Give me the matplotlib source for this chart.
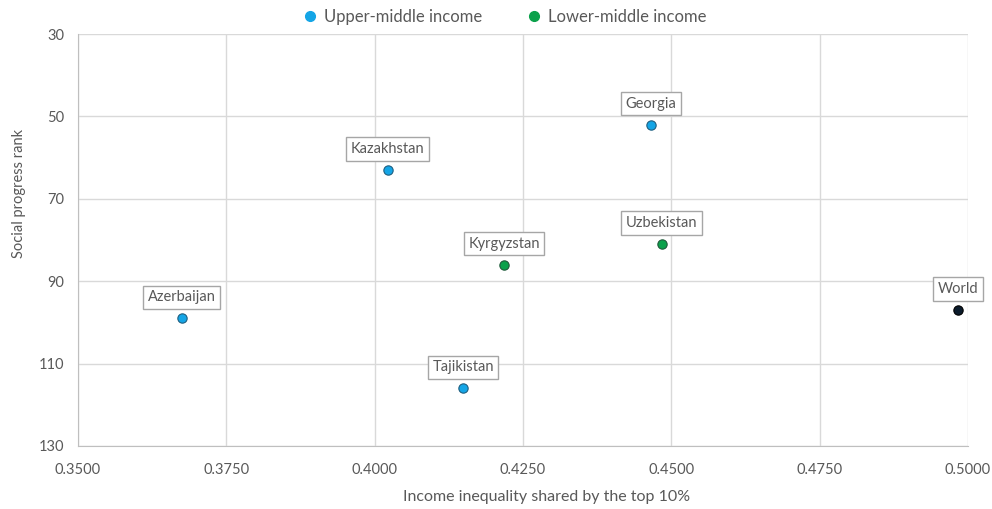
import matplotlib.pyplot as plt
from matplotlib.lines import Line2D

plt.rcParams['font.family'] = ['Lato', 'DejaVu Sans']

countries = ['Azerbaijan', 'Kazakhstan', 'Tajikistan', 'Kyrgyzstan', 'Georgia', 'Uzbekistan', 'World']
inequality = [0.3675, 0.4022, 0.4149, 0.4218, 0.4466, 0.4484, 0.4983]
rank = [99, 63, 116, 86, 52, 81, 97]
group = ['upper', 'upper', 'upper', 'lower', 'upper', 'lower', 'world']

colors = {'upper': '#14A5E6', 'lower': '#0BA14B', 'world': '#0B1B2B'}
edges = {'upper': '#1F5F80', 'lower': '#1F5A3A', 'world': '#000000'}
text_gray = '#595959'
grid_gray = '#D9D9D9'

fig = plt.figure(figsize=(9.92, 5.09), dpi=100)
ax = fig.add_axes([0.0786, 0.1238, 0.8972, 0.8094])

for x, y, g, name in zip(inequality, rank, group, countries):
    ax.scatter(x, y, s=45, color=colors[g], edgecolor=edges[g], linewidth=0.8, zorder=3)
    ax.annotate(name, (x, y), xytext=(0, 21), textcoords='offset pixels',
                ha='center', va='center', fontsize=10.5, color=text_gray, zorder=4,
                bbox=dict(boxstyle='square,pad=0.32', fc='white', ec='#A6A6A6', lw=1))

ax.set_xlim(0.35, 0.50)
ax.set_ylim(130, 30)
ax.set_xticks([0.35, 0.375, 0.40, 0.425, 0.45, 0.475, 0.50])
ax.set_xticklabels([f'{v:.4f}' for v in ax.get_xticks()])
ax.set_yticks([30, 50, 70, 90, 110, 130])
ax.grid(True, color=grid_gray, lw=1)
ax.set_axisbelow(True)
ax.tick_params(length=0, labelsize=10.5, labelcolor=text_gray)
ax.tick_params(axis='x', pad=12)
ax.tick_params(axis='y', pad=10)
for side in ['top', 'right']:
    ax.spines[side].set_visible(False)
for side in ['left', 'bottom']:
    ax.spines[side].set_color('#BFBFBF')

ax.set_xlabel('Income inequality shared by the top 10%', fontsize=11.5, color=text_gray)
ax.xaxis.set_label_coords(0.527, -0.106)
ax.set_ylabel('Social progress rank', fontsize=10.5, color=text_gray)
ax.yaxis.set_label_coords(-0.058, 0.614)

handles = [Line2D([], [], marker='o', ls='', color=colors['upper'], markersize=7),
           Line2D([], [], marker='o', ls='', color=colors['lower'], markersize=7)]
fig.legend(handles, ['Upper-middle income', 'Lower-middle income'], loc='center',
           bbox_to_anchor=(0.508, 0.966), ncol=2, frameon=False, fontsize=12,
           labelcolor=text_gray, columnspacing=2.6, handlelength=1, handletextpad=0.35)

fig.savefig('out.png', dpi=100)
